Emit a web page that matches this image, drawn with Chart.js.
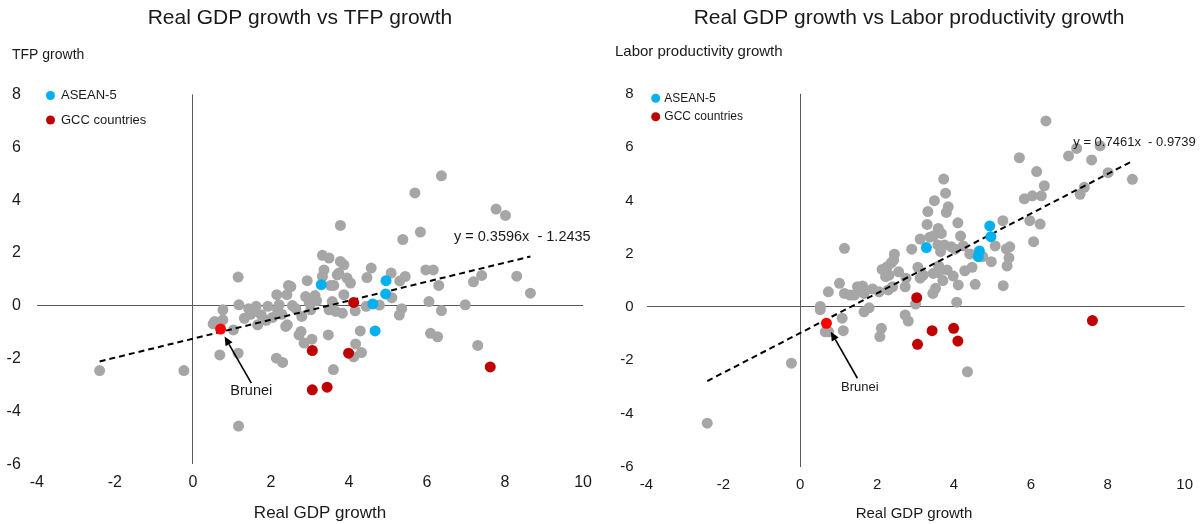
<!DOCTYPE html>
<html>
<head>
<meta charset="utf-8">
<script src="https://cdn.jsdelivr.net/npm/chart.js@4.4.1/dist/chart.umd.min.js"></script>
<style>
  html, body { margin: 0; padding: 0; background: #fff; }
  #wrap { position: relative; width: 1202px; height: 524px; }
  canvas { position: absolute; top: 0; }
  #tfpChart { left: 0; }
  #lpChart { left: 601px; }
</style>
</head>
<body>
<div id="wrap">
  <canvas id="tfpChart" width="601" height="524"></canvas>
  <canvas id="lpChart" width="601" height="524"></canvas>
</div>
<script>
// ---- Data: [real GDP growth, productivity growth] per economy ----
const xTicks = [-4, -2, 0, 2, 4, 6, 8, 10];
const yTicks = [-6, -4, -2, 0, 2, 4, 6, 8];

// Panel 1: TFP growth
const tfpOthers = [
  [-2.39,-2.45],[-0.23,-2.45],[0.69,-1.86],[1.16,-1.79],[1.17,-4.55],[0.56,-0.59],[0.52,-0.68],
  [0.77,-0.53],[0.77,-0.15],[1.18,0.04],[1.16,1.09],[1.04,-0.91],[1.32,-0.47],[1.43,-0.11],
  [1.58,-0.21],[1.66,-0.72],[1.75,-0.34],[1.92,-0.02],[2.04,-0.44],[2.17,-0.15],[2.21,0.04],
  [2.15,0.42],[2.41,0.42],[2.45,0.77],[2.51,0.73],[2.38,-0.78],[2.42,-0.72],[2.55,0.01],
  [2.64,-0.11],[2.79,-0.40],[2.77,-0.97],[2.72,-1.10],[2.85,-1.41],[3.05,-1.26],[2.14,-1.98],
  [2.30,-2.14],[2.93,0.95],[2.89,0.35],[3.02,-0.15],[3.13,0.39],[3.17,0.19],[3.32,1.91],
  [3.49,1.81],[3.78,3.04],[3.78,1.68],[3.87,1.55],[3.36,1.36],[3.32,1.11],[3.70,1.17],
  [3.74,1.24],[3.95,1.05],[4.04,0.86],[3.61,0.77],[3.53,0.77],[3.87,0.42],[3.57,0.16],
  [3.49,-0.15],[3.66,-0.21],[3.83,-0.28],[4.16,-0.19],[3.47,-1.10],[3.60,-2.41],[4.29,-0.95],
  [4.17,-1.44],[4.32,-1.77],[4.12,-1.93],[4.44,-0.02],[4.46,1.07],[4.57,1.43],[4.78,0.03],
  [5.08,1.24],[5.10,0.31],[5.30,0.94],[5.44,1.11],[5.38,2.51],[5.69,4.27],[5.83,2.79],
  [5.97,1.36],[6.16,1.36],[6.30,0.77],[6.05,0.16],[6.37,-0.18],[6.98,0.04],[5.35,-0.11],
  [5.29,-0.35],[6.09,-1.04],[6.27,-1.17],[7.30,-1.50],[7.19,0.91],[7.40,1.15],[8.30,1.12],
  [8.65,0.48],[7.77,3.66],[8.01,3.42],[6.37,4.92],[1.48,-0.32],[1.88,-0.55],[2.28,-0.32],
  [1.62,-0.02],[2.98,0.12]
];
const tfpAsean = [[3.29,0.80],[4.95,0.95],[4.94,0.45],[4.61,0.07],[4.67,-0.95]];
const tfpGcc = [[4.12,0.13],[3.06,-1.69],[3.99,-1.79],[3.06,-3.18],[3.44,-3.08],[7.62,-2.31]];
const tfpBrunei = [[0.71,-0.88]];
const tfpSlope = 0.3596, tfpIntercept = -1.2435;

// Panel 2: labor productivity growth
const lpOthers = [
  [-2.42,-4.36],[-0.23,-2.11],[0.52,0.02],[0.52,-0.10],[0.65,-0.93],[0.74,-0.93],[1.09,-0.42],
  [1.12,-0.89],[0.73,0.57],[1.02,0.89],[1.15,2.20],[1.15,0.51],[1.30,0.45],[1.41,0.45],
  [1.49,0.76],[1.62,0.79],[1.66,0.51],[1.55,0.62],[1.88,0.68],[2.05,0.57],[1.79,-0.03],
  [1.66,-0.18],[2.11,-0.80],[2.07,-1.11],[2.73,-0.30],[2.81,-0.53],[3.00,0.11],[2.29,0.64],
  [2.40,0.76],[2.45,1.98],[2.43,1.76],[2.37,1.66],[2.26,1.51],[2.13,1.41],[2.22,1.14],
  [2.31,1.20],[2.56,1.32],[2.75,1.08],[2.73,0.76],[2.90,2.17],[3.06,1.49],[3.20,1.20],
  [3.12,1.08],[3.12,2.55],[3.30,3.10],[3.32,3.58],[3.37,2.62],[3.46,2.66],[3.49,3.99],
  [3.59,2.95],[3.67,2.76],[3.73,4.80],[3.78,4.27],[3.85,3.76],[3.80,3.55],[3.58,2.33],
  [3.75,2.33],[3.93,2.26],[4.03,2.17],[3.65,2.08],[4.10,3.16],[4.17,2.66],[4.24,2.29],
  [3.60,1.54],[3.60,1.29],[3.82,1.39],[3.98,1.16],[3.46,1.26],[3.71,0.99],[3.52,0.70],
  [3.45,0.51],[4.07,0.18],[4.11,0.83],[4.28,1.36],[4.47,1.49],[4.55,0.85],[4.41,1.99],
  [4.75,1.89],[4.97,1.70],[5.07,2.29],[5.27,3.24],[5.28,0.80],[5.36,2.18],[5.45,2.26],
  [5.43,1.84],[5.38,1.54],[5.70,5.60],[5.83,4.06],[6.04,4.17],[5.97,3.24],[6.07,2.45],
  [6.15,5.08],[6.24,3.11],[6.27,4.17],[6.35,4.55],[6.39,6.98],[6.98,5.67],[7.19,5.95],
  [7.28,4.23],[7.39,4.49],[7.58,5.52],[7.80,6.05],[8.01,5.04],[8.64,4.79],[4.35,-2.43]
];
const lpAsean = [[3.28,2.23],[4.93,3.04],[4.96,2.64],[4.66,2.10],[4.63,1.89]];
const lpGcc = [[3.03,0.35],[3.05,-1.40],[3.43,-0.89],[3.99,-0.80],[4.10,-1.28],[7.60,-0.51]];
const lpBrunei = [[0.68,-0.61]];
const lpSlope = 0.7461, lpIntercept = -0.9739;

// ---- Styling ----
const FONT = "'Liberation Sans', Arial, sans-serif";
const GREY = '#A6A6A6', BLUE = '#00B0F0', DARKRED = '#C00000', RED = '#FF0000';
const AXIS = '#595959', TEXT = '#1a1a1a';

const toPts = arr => arr.map(([x, y]) => ({ x, y }));

function trendPoints(groups, slope, intercept) {
  const xs = groups.flat().map(p => p[0]);
  const lo = Math.min(...xs), hi = Math.max(...xs);
  return [{ x: lo, y: slope * lo + intercept }, { x: hi, y: slope * hi + intercept }];
}

function equationText(slope, intercept) {
  const sign = intercept < 0 ? '-' : '+';
  return `y = ${slope.toFixed(4)}x  ${sign} ${Math.abs(intercept).toFixed(4)}`;
}

function drawArrow(ctx, x1, y1, x2, y2) {
  const ang = Math.atan2(y2 - y1, x2 - x1);
  const head = 9, half = 4;
  const bx = x2 - head * Math.cos(ang), by = y2 - head * Math.sin(ang);
  ctx.strokeStyle = '#000';
  ctx.lineWidth = 1.6;
  ctx.beginPath();
  ctx.moveTo(x1, y1);
  ctx.lineTo(bx, by);
  ctx.stroke();
  ctx.fillStyle = '#000';
  ctx.beginPath();
  ctx.moveTo(x2, y2);
  ctx.lineTo(bx + half * Math.sin(ang), by - half * Math.cos(ang));
  ctx.lineTo(bx - half * Math.sin(ang), by + half * Math.cos(ang));
  ctx.closePath();
  ctx.fill();
}

function makePanel(canvasId, p) {
  const datasets = [
    { label: 'Brunei', data: toPts(p.brunei), backgroundColor: RED },
    { label: 'GCC countries', data: toPts(p.gcc), backgroundColor: DARKRED },
    { label: 'ASEAN-5', data: toPts(p.asean), backgroundColor: BLUE },
    { label: 'Trend', data: trendPoints([p.others, p.asean, p.gcc, p.brunei], p.slope, p.intercept),
      showLine: true, borderColor: '#000', borderWidth: 2, borderDash: [6, 4],
      pointRadius: 0, fill: false },
    { label: 'Others', data: toPts(p.others), backgroundColor: GREY }
  ];
  datasets.forEach(d => { if (d.label !== 'Trend') { d.pointRadius = 5.5; d.borderWidth = 0; } });

  const zeroLine = ctx => (ctx.tick && ctx.tick.value === 0) ? AXIS : 'rgba(0,0,0,0)';

  const textPlugin = {
    id: 'panelText',
    afterDraw(chart) {
      const ctx = chart.ctx;
      const put = (t, x, y, size, align) => {
        ctx.font = `${size}px ${FONT}`;
        ctx.fillStyle = TEXT;
        ctx.textAlign = align || 'left';
        ctx.textBaseline = 'middle';
        ctx.fillText(t, x, y);
      };
      ctx.save();
      put(p.title, p.titlePos[0], p.titlePos[1], p.titleSize, 'center');
      put(p.yCaption, p.yCapPos[0], p.yCapPos[1], p.yCapSize, 'left');
      put('Real GDP growth', p.xCapPos[0], p.xCapPos[1], p.xCapSize, 'center');
      // legend inside plot
      const legendItems = [[BLUE, 'ASEAN-5'], [DARKRED, 'GCC countries']];
      legendItems.forEach(([c, t], i) => {
        const y = p.legendY[i];
        ctx.fillStyle = c;
        ctx.beginPath();
        ctx.arc(p.legendMarkX, y, p.legendR, 0, Math.PI * 2);
        ctx.fill();
        put(t, p.legendTextX, y, p.legendSize, 'left');
      });
      // trendline equation
      put(equationText(p.slope, p.intercept), p.eqPos[0], p.eqPos[1], p.eqSize, 'left');
      // Brunei callout
      const bx = chart.scales.x.getPixelForValue(p.brunei[0][0]);
      const by = chart.scales.y.getPixelForValue(p.brunei[0][1]);
      drawArrow(ctx, bx + p.arrowTail[0], by + p.arrowTail[1], bx + p.arrowTip[0], by + p.arrowTip[1]);
      put('Brunei', bx + p.bruneiLabel[0], by + p.bruneiLabel[1], p.bruneiSize, 'center');
      ctx.restore();
    }
  };

  return new Chart(document.getElementById(canvasId), {
    type: 'scatter',
    data: { datasets },
    plugins: [textPlugin],
    options: {
      responsive: false,
      animation: false,
      events: [],
      layout: { padding: { left: 0, top: p.area.top, right: 601 - p.area.right, bottom: 0 } },
      plugins: { legend: { display: false }, tooltip: { enabled: false }, title: { display: false } },
      scales: {
        x: {
          type: 'linear', min: xTicks[0], max: xTicks[xTicks.length - 1],
          afterBuildTicks: s => { s.ticks = xTicks.map(v => ({ value: v })); },
          ticks: { color: TEXT, font: { family: FONT, size: p.tickSize }, padding: p.xTickPad, maxRotation: 0 },
          grid: { drawTicks: false, color: zeroLine, lineWidth: 1 },
          border: { display: false },
          afterFit: s => { s.height = 524 - p.area.bottom; }
        },
        y: {
          type: 'linear', min: yTicks[0], max: yTicks[yTicks.length - 1],
          afterBuildTicks: s => { s.ticks = yTicks.map(v => ({ value: v })); },
          ticks: { color: TEXT, font: { family: FONT, size: p.tickSize }, padding: p.yTickPad },
          grid: { drawTicks: false, color: zeroLine, lineWidth: 1 },
          border: { display: false },
          afterFit: s => { s.width = p.area.left; }
        }
      }
    }
  });
}

makePanel('tfpChart', {
  others: tfpOthers, asean: tfpAsean, gcc: tfpGcc, brunei: tfpBrunei,
  slope: tfpSlope, intercept: tfpIntercept,
  area: { left: 36.8, right: 585.2, top: 94.4, bottom: 464.4 },
  tickSize: 16, xTickPad: 9, yTickPad: 16,
  title: 'Real GDP growth vs TFP growth', titlePos: [300, 18], titleSize: 21,
  yCaption: 'TFP growth', yCapPos: [12, 55], yCapSize: 14,
  xCapPos: [320, 513], xCapSize: 17,
  legendY: [95.5, 120], legendMarkX: 50.5, legendR: 4.5, legendTextX: 61, legendSize: 13,
  eqPos: [454, 237], eqSize: 14.5,
  arrowTail: [30.7, 54], arrowTip: [4, 7.4], bruneiLabel: [30.7, 62.4], bruneiSize: 14.5
});

makePanel('lpChart', {
  others: lpOthers, asean: lpAsean, gcc: lpGcc, brunei: lpBrunei,
  slope: lpSlope, intercept: lpIntercept,
  area: { left: 45.5, right: 585.7, top: 93.8, bottom: 466.9 },
  tickSize: 15, xTickPad: 9, yTickPad: 13,
  title: 'Real GDP growth vs Labor productivity growth', titlePos: [308, 18], titleSize: 21,
  yCaption: 'Labor productivity growth', yCapPos: [14, 52], yCapSize: 15,
  xCapPos: [313, 514], xCapSize: 15,
  legendY: [98.3, 116.7], legendMarkX: 54.7, legendR: 4.5, legendTextX: 63.3, legendSize: 12,
  eqPos: [472.3, 142.7], eqSize: 13,
  arrowTail: [31, 55], arrowTip: [4.4, 8.4], bruneiLabel: [33.4, 64], bruneiSize: 13
});
</script>
</body>
</html>
